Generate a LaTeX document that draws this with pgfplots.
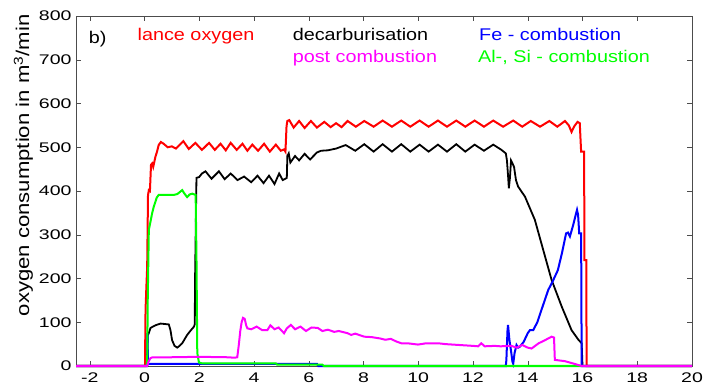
\documentclass[border=0pt]{standalone}
\usepackage{fontspec}
\setmainfont{Liberation Sans}
\newfontfamily\tkfont{Liberation Sans}[FakeStretch=1.4]
\newfontfamily\lgfont{Liberation Sans}[FakeStretch=1.17]
\newfontfamily\lbfont{Liberation Sans}[FakeStretch=1.2]
\usepackage{pgfplots}
\pgfplotsset{compat=1.18}
\definecolor{cRed}{RGB}{255,0,0}
\definecolor{cBlue}{RGB}{0,0,255}
\definecolor{cGreen}{RGB}{0,255,0}
\definecolor{cMag}{RGB}{255,0,255}
\begin{document}
\begin{tikzpicture}
\path[use as bounding box] (0,0) rectangle (703bp,387bp);
\begin{axis}[
  at={(76bp,21bp)}, anchor=south west,
  scale only axis, width=616bp, height=350bp,
  xmin=-2.5, xmax=20, ymin=0, ymax=800,
  xtick={-2,0,2,4,6,8,10,12,14,16,18,20},
  ytick={0,100,200,300,400,500,600,700,800},
  /pgf/number format/assume math mode=true,
  tick label style={font=\tkfont\fontsize{14}{14}\selectfont},
  xticklabel style={yshift=-3bp},
  yticklabel style={xshift=-1bp},
  axis line style={black!70},
  tick style={black!70},
  major tick length=5bp,
  clip=false,
  ylabel={oxygen consumption in m\textsuperscript{3}/min},
  ylabel style={font=\lbfont\fontsize{18.5}{18.5}\selectfont, at={(axis description cs:-0.0852,0.573)}, anchor=center},
]
% lance oxygen
\addplot[cRed, line width=2bp] coordinates {
(-2.5,0)(0,0)(0.02,0)(0.04,128)(0.07,180)(0.1,227)(0.13,390)(0.16,402)(0.2,400)(0.24,460)(0.28,463)(0.32,455)(0.4,478)(0.46,490)(0.52,505)(0.6,512)(0.7,508)(0.85,500)(1.0,502)(1.15,497)(1.42,514)(1.62,496)(1.86,510)(2.1,494)(2.36,510)(2.57,494)(2.78,508)(2.97,493)(3.15,510)(3.37,494)(3.58,508)(3.76,492)(3.94,506)(4.15,492)(4.37,508)(4.58,490)(4.8,506)(4.98,492)(5.1,495)(5.15,490)(5.19,548)(5.22,560)(5.29,562)(5.45,545)(5.65,560)(5.85,544)(6.08,560)(6.3,545)(6.57,558)(6.8,546)(7.0,555)(7.2,546)(7.42,560)(7.72,547)(8.03,560)(8.37,547)(8.7,561)(9.04,547)(9.38,561)(9.71,547)(10.05,561)(10.38,547)(10.72,561)(11.05,547)(11.39,561)(11.72,547)(12.06,561)(12.4,547)(12.74,561)(13.1,547)(13.47,561)(13.8,547)(14.11,560)(14.45,547)(14.79,560)(15.08,547)(15.36,560)(15.5,550)(15.6,535)(15.7,548)(15.82,558)(15.9,555)(15.95,490)(16.06,490)(16.07,242)(16.14,242)(16.15,0)(20,0)
};
% decarburisation
\addplot[black, line width=1.8bp] coordinates {
(-2.5,0)(0.1,0)(0.12,70)(0.16,75)(0.22,87)(0.4,93)(0.59,97)(0.89,95)(0.95,82)(1.01,59)(1.1,46)(1.2,42)(1.3,47)(1.38,52)(1.56,71)(1.7,82)(1.81,90)(1.84,96)(1.845,181)(1.86,250)(1.9,430)(2.0,432)(2.1,440)(2.23,445)(2.45,428)(2.72,445)(2.93,427)(3.15,440)(3.4,425)(3.64,433)(3.9,420)(4.13,435)(4.35,418)(4.55,435)(4.75,416)(4.92,440)(5.05,425)(5.15,428)(5.2,430)(5.22,480)(5.27,486)(5.33,465)(5.5,480)(5.65,470)(5.85,485)(6.05,472)(6.3,488)(6.45,492)(6.7,493)(7.0,497)(7.35,505)(7.7,492)(8.03,507)(8.37,490)(8.7,507)(9.04,490)(9.38,507)(9.71,490)(10.05,506)(10.38,490)(10.72,506)(11.05,490)(11.39,507)(11.72,490)(12.06,506)(12.4,492)(12.74,506)(13.04,494)(13.2,486)(13.24,470)(13.28,436)(13.31,406)(13.35,430)(13.39,470)(13.43,465)(13.5,455)(13.57,425)(13.65,410)(13.9,387)(14.26,334)(14.5,280)(14.87,197)(15.24,136)(15.6,82)(15.85,60)(15.97,52)(16.0,0)(20,0)
};
% Fe - combustion
\addplot[cBlue, line width=2bp] coordinates {
(-2.5,0)(0.1,0)(0.11,75)(0.13,5)(6.3,5)(6.35,0)(13.2,0)(13.22,14)(13.26,80)(13.28,94)(13.33,60)(13.4,30)(13.44,10)(13.47,5)(13.52,30)(13.59,48)(13.65,42)(13.71,44)(13.85,55)(14.0,75)(14.08,82)(14.2,82)(14.35,100)(14.5,128)(14.75,174)(14.9,192)(15.1,219)(15.25,258)(15.4,303)(15.47,305)(15.54,296)(15.65,320)(15.8,357)(15.84,345)(15.88,303)(15.95,303)(15.97,0)(20,0)
};
% Al-, Si - combustion
\addplot[cGreen, line width=2bp] coordinates {
(-2.5,0)(0.07,0)(0.1,7)(0.12,150)(0.16,311)(0.22,330)(0.28,349)(0.34,364)(0.45,385)(0.52,391)(0.82,391)(1.07,391)(1.2,393)(1.38,402)(1.45,395)(1.56,386)(1.65,392)(1.75,394)(1.87,391)(1.9,250)(1.93,30)(1.99,8)(2.1,6)(4.8,6)(4.85,3)(6.5,3)(6.55,0)(20,0)
};
% post combustion
\addplot[cMag, line width=2bp] coordinates {
(-2.5,0)(0.1,0)(0.15,10)(0.22,18)(0.3,20)(1.0,20)(2.0,21)(3.0,20)(3.3,19)(3.39,20)(3.45,50)(3.5,80)(3.55,100)(3.6,110)(3.66,108)(3.72,92)(3.76,86)(3.9,84)(4.1,90)(4.3,82)(4.49,82)(4.6,93)(4.75,84)(4.9,88)(5.1,75)(5.2,86)(5.35,94)(5.5,84)(5.7,90)(5.9,80)(6.1,88)(6.33,87)(6.5,80)(6.7,83)(6.93,78)(7.1,80)(7.42,75)(7.55,71)(7.7,74)(8.03,67)(8.3,66)(8.6,63)(8.8,60)(9.0,62)(9.2,56)(9.38,52)(9.6,52)(9.99,49)(10.3,52)(10.72,52)(11.0,50)(11.5,48)(12.0,46)(12.19,45)(12.3,52)(12.43,45)(12.8,46)(13.0,45)(13.4,46)(13.6,42)(13.8,48)(14.0,42)(14.14,40)(14.4,52)(14.6,58)(14.87,67)(14.96,65)(14.99,14)(15.36,11)(15.7,5)(15.97,0)(20,0)
};
\node[anchor=base west, inner sep=0, font=\lgfont\fontsize{17}{17}\selectfont, black] at (axis cs:-2.04,737) {b)};
\node[anchor=base west, inner sep=0, font=\lgfont\fontsize{17}{17}\selectfont, cRed] at (axis cs:-0.256,745) {lance oxygen};
\node[anchor=base west, inner sep=0, font=\lgfont\fontsize{17}{17}\selectfont, black] at (axis cs:5.41,745) {decarburisation};
\node[anchor=base west, inner sep=0, font=\lgfont\fontsize{17}{17}\selectfont, cBlue] at (axis cs:12.22,745) {Fe - combustion};
\node[anchor=base west, inner sep=0, font=\lgfont\fontsize{17}{17}\selectfont, cMag] at (axis cs:5.41,692.6) {post combustion};
\node[anchor=base west, inner sep=0, font=\lgfont\fontsize{17}{17}\selectfont, cGreen] at (axis cs:12.18,692.6) {Al-, Si - combustion};
\end{axis}
\end{tikzpicture}
\end{document}
